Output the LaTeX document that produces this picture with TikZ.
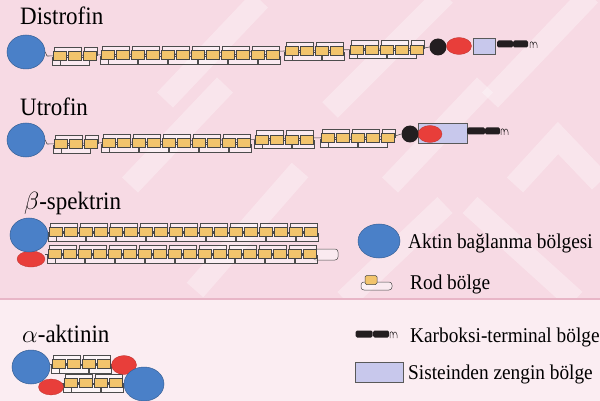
\documentclass[tikz,border=0pt]{standalone}
\usepackage{fontspec}
\setmainfont{Liberation Serif}
\newfontfamily\labelfont[FakeStretch=0.92]{Liberation Serif}
\usetikzlibrary{shapes.geometric}

\definecolor{bgpink}{RGB}{247,218,228}
\definecolor{bglight}{RGB}{251,237,242}
\definecolor{linepink}{RGB}{232,182,199}
\definecolor{actinblue}{RGB}{74,128,200}
\definecolor{efred}{RGB}{232,62,58}
\definecolor{rodyellow}{RGB}{242,196,108}
\definecolor{cyslilac}{RGB}{200,200,236}
\definecolor{ctblack}{RGB}{35,30,32}

\tikzset{
    actinnode/.style={
        ellipse,
        fill=actinblue,
        draw=actinblue!75!black, % 边框稍深
        line width=0.5pt,
        minimum width=38pt,
        minimum height=34pt,
        inner sep=0
    },
    rednode/.style={
        ellipse,
        fill=efred,
        draw=efred!80!black,
        line width=0.3pt,
        minimum width=25pt,
        minimum height=17pt,
        inner sep=0
    },
    blacknode/.style={circle, fill=ctblack, minimum size=17pt, inner sep=0},
    cysbox/.style={rectangle, fill=cyslilac, draw=gray!70!black, line width=0.5pt, inner sep=0},
    ctbox/.style={rectangle, rounded corners=1.5pt, fill=ctblack, minimum height=7pt, inner sep=0},
    unitbox/.style={fill=rodyellow, draw=gray!55!black, line width=0.5pt},
    framebox/.style={fill=white, fill opacity=0.45, draw=gray!60!black, line width=0.5pt},
    hinge/.style={draw=gray!60!black, line width=0.6pt},
    squiggle/.style={draw=ctblack, line width=0.5pt},
    stripe/.style={draw=white, opacity=0.3, line width=22pt},
    titletext/.style={font=\labelfont\fontsize{25}{28}\selectfont, inner sep=0, anchor=base west},
    keytext/.style={font=\labelfont\fontsize{21}{24}\selectfont, inner sep=0, anchor=base west},
    % 一段 rod: #1 个单元
    pics/rodseg/.style={code={
        \pgfmathsetmacro\seglen{#1*15}
        \draw[framebox] (0,1) rectangle (8,9);
        \foreach \i in {1,...,#1}{
            \pgfmathsetmacro\xa{(\i-1)*15}
            \ifodd\i
                \pgfmathsetmacro\xb{min(\xa+29,\seglen)}
                \draw[framebox] (\xa+2,-9) rectangle (\xb,-1);
            \else
                \pgfmathsetmacro\xb{min(\xa+22,\seglen)}
                \draw[framebox] (\xa-7,1) rectangle (\xb,9);
            \fi
        }
        \foreach \i in {1,...,#1}{
            \pgfmathsetmacro\xa{(\i-1)*15}
            \draw[unitbox] (\xa+1,-4.5) rectangle (\xa+14,4.5);
        }
    }},
    % 羧基端的小尾巴
    pics/ctail/.style={code={
        \draw[squiggle] (0,3) -- (0,-1) .. controls (0,-4) and (3,-4) .. (3,-1) -- (3,3);
        \draw[squiggle] (3,0) .. controls (3,-4) and (7,-4) .. (7,0) -- (7,3);
    }}
}

\begin{document}
\begin{tikzpicture}[x=1pt, y=-1pt]
    \useasboundingbox (0,0) rectangle (600,401);
    % 背景
    \fill[bgpink] (0,0) rectangle (600,299);
    \fill[bglight] (0,299) rectangle (600,401);
    \begin{scope}
        \clip (0,0) rectangle (600,298);
        \foreach \ax/\ay/\bx/\by in {260/0/165/100, 225/85/130/185, 445/-5/330/110, 300/170/195/290,
                                     590/-5/490/100, 485/85/390/185, 345/300/445/205, 470/205/575/300}
            \draw[stripe] (\ax,\ay) -- (\bx,\by);
        \draw[stripe] (515,185) -- (558,138) -- (600,182);
    \end{scope}
    \draw[linepink, line width=1.5pt] (0,299) -- (600,299);

    % 肌营养不良蛋白
    \node[titletext] (dysName) at (20,25) {Distrofin};
    \begin{scope}[shift={(47,56)}, rotate=1.2]
        \coordinate (dysR0) at (0,0);
        \coordinate (dysR1) at (377,0);
        \draw[hinge] (dysR0) -- (dysR1);
        \foreach \s/\n in {5/3, 53/12, 237/4, 302/5}
            \pic at (\s,0) {rodseg=\n};
    \end{scope}
    \node[actinnode] (dysABD) at (26,52) {};
    \node[blacknode] (dysWW) at (438,47) {};
    \node[rednode] (dysEF) at (459,46) {};
    \node[cysbox, minimum width=22pt, minimum height=16pt] (dysCR) at (484,46) {};
    \node[ctbox, minimum width=16pt] (dysCT1) at (505,44) {};
    \node[ctbox, minimum width=15pt] (dysCT2) at (520.5,44) {};
    \pic at (530,45) {ctail};
    \draw[hinge] (dysABD.east) -- (dysR0);
    \draw[hinge] (dysR1) -- (dysWW.west);

    % 抗肌萎缩相关蛋白
    \node[titletext] (utrName) at (20,116) {Utrofin};
    \begin{scope}[shift={(47,144)}, rotate=1.3]
        \coordinate (utrR0) at (0,0);
        \coordinate (utrR1) at (348,0);
        \draw[hinge] (utrR0) -- (utrR1);
        \foreach \s/\n in {6/3, 54/10, 207/4, 273/5}
            \pic at (\s,0) {rodseg=\n};
    \end{scope}
    \node[actinnode] (utrABD) at (26,140) {};
    \node[cysbox, minimum width=49pt, minimum height=20pt] (utrCR) at (442.5,133) {};
    \node[rednode, minimum width=24pt] (utrEF) at (430,134) {};
    \node[blacknode] (utrWW) at (410,134) {};
    \node[ctbox, minimum width=18pt] (utrCT1) at (476,131) {};
    \node[ctbox, minimum width=15pt] (utrCT2) at (492.5,131) {};
    \pic at (501,132) {ctail};
    \draw[hinge] (utrABD.east) -- (utrR0);
    \draw[hinge] (utrR1) -- (utrWW.west);

    % 血影蛋白
    \node[titletext] (spcName) at (24,210) {$\beta$-spektrin};
    \begin{scope}[shift={(48,232)}]
        \coordinate (spcA0) at (0,0);
        \draw[hinge] (spcA0) -- (270,0);
        \pic at (0,0) {rodseg=18};
    \end{scope}
    \begin{scope}[shift={(45,254)}]
        \coordinate (spcB0) at (0,0);
        \draw[hinge] (spcB0) -- (272,0);
        \draw[framebox, rounded corners=3pt] (268,-5) rectangle (293,6);
        \pic at (2,0) {rodseg=18};
    \end{scope}
    \node[rednode, minimum width=28pt, minimum height=16pt] (spcEF) at (31,259) {};
    \node[actinnode] (spcABD) at (29,235) {};

    % 辅肌动蛋白
    \node[titletext] (actnName) at (22,342) {$\alpha$-aktinin};
    \begin{scope}[shift={(50,364)}]
        \draw[hinge] (0,0) -- (62,0);
        \pic at (1,0) {rodseg=4};
    \end{scope}
    \begin{scope}[shift={(62,383)}]
        \draw[hinge] (0,0) -- (62,0);
        \pic at (1,0) {rodseg=4};
    \end{scope}
    \node[rednode, minimum height=19pt] (actnEF1) at (124,365) {};
    \node[rednode, minimum height=16pt] (actnEF2) at (51,387) {};
    \node[actinnode] (actnABD1) at (31,367) {};
    \node[actinnode, minimum width=40pt] (actnABD2) at (144,384) {};

    % 图例
    \node[actinnode, minimum width=42pt] (keyABD) at (379,241) {};
    \node[keytext] (keyABDtext) at (408,248) {Aktin bağlanma bölgesi};
    \draw[framebox, rounded corners=3pt] (361,282) rectangle (392,290);
    \node[unitbox, rounded corners=1.5pt, minimum width=12pt, minimum height=9pt, inner sep=0] (keyRod) at (371,280) {};
    \node[keytext] (keyRodtext) at (410,289) {Rod bölge};
    \node[ctbox, minimum width=17pt] (keyCT1) at (364,334) {};
    \node[ctbox, minimum width=16pt] (keyCT2) at (381,334) {};
    \pic at (390,335) {ctail};
    \node[keytext] (keyCTtext) at (410,342) {Karboksi-terminal bölge};
    \node[cysbox, minimum width=48pt, minimum height=20pt] (keyCR) at (379,372) {};
    \node[keytext] (keyCRtext) at (408,379) {Sisteinden zengin bölge};
\end{tikzpicture}
\end{document}
